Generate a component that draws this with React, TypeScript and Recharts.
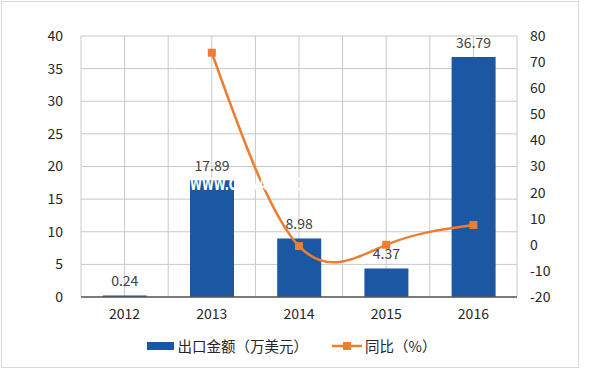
import React from 'react';
import {
  ComposedChart,
  Bar,
  Line,
  XAxis,
  YAxis,
  CartesianGrid,
  LabelList,
} from 'recharts';

const years = ['2012', '2013', '2014', '2015', '2016'];
const exportValues = [0.24, 17.89, 8.98, 4.37, 36.79];
const yoyValues: (number | null)[] = [null, 73.6, -0.5, 0, 7.6];
const leftTicks = [0, 5, 10, 15, 20, 25, 30, 35, 40];
const rightTicks = [-20, -10, 0, 10, 20, 30, 40, 50, 60, 70, 80];
const barName = '出口金额（万美元）';
const lineName = '同比（%）';

const data = years.map((y, i) => ({ year: y, exp: exportValues[i], yoy: yoyValues[i] }));

const BAR_COLOR = '#1b57a2';
const LINE_COLOR = '#ed7d31';
const FONT = '"Noto Sans CJK SC", "Open Sans", sans-serif';

const SquareDot = (props: any) => {
  const { cx, cy, value } = props;
  if (cx == null || cy == null || value == null) return null;
  return <rect x={cx - 4} y={cy - 4} width={8} height={8} fill={LINE_COLOR} />;
};

export default function App() {
  return (
    <div
      style={{
        position: 'absolute',
        left: 0,
        top: 0,
        width: 600,
        height: 369,
        background: '#fff',
      }}
    >
      <div
        style={{
          position: 'absolute',
          left: 1,
          top: 1,
          width: 576,
          height: 365,
          border: '1px solid #d9d9d9',
        }}
      />
      <ComposedChart
        width={600}
        height={369}
        data={data}
        margin={{ top: 36, right: 33, bottom: 42, left: 31 }}
        barCategoryGap="25%"
        style={{ position: 'absolute', left: 0, top: 0 }}
      >
        <CartesianGrid
          yAxisId="left"
          stroke="#c8c8c8"
          strokeWidth={1}
          verticalCoordinatesGenerator={({ offset }: any) =>
            Array.from({ length: 11 }, (_, i) => offset.left + (i * offset.width) / 10)
          }
        />
        <XAxis
          dataKey="year"
          height={30}
          axisLine={{ stroke: '#595959', strokeWidth: 1.5 }}
          tickLine={false}
          tickSize={0}
          tickMargin={12}
          tick={{ fill: '#262626', fontSize: 14, fontFamily: FONT }}
        />
        <YAxis
          yAxisId="left"
          orientation="left"
          width={50}
          domain={[0, 40]}
          ticks={leftTicks}
          axisLine={false}
          tickLine={false}
          tickSize={0}
          tickMargin={18}
          tick={{ fill: '#262626', fontSize: 14, fontFamily: FONT }}
        />
        <YAxis
          yAxisId="right"
          orientation="right"
          width={50}
          domain={[-20, 80]}
          ticks={rightTicks}
          axisLine={false}
          tickLine={false}
          tickSize={0}
          tickMargin={13}
          tick={{ fill: '#262626', fontSize: 14, fontFamily: FONT, textAnchor: 'start' }}
        />
        <Bar yAxisId="left" dataKey="exp" name={barName} fill={BAR_COLOR} isAnimationActive={false}>
          <LabelList
            dataKey="exp"
            position="top"
            offset={9}
            fill="#404040"
            fontSize={14}
            fontFamily={FONT}
          />
        </Bar>
        <Line
          yAxisId="right"
          type="natural"
          dataKey="yoy"
          name={lineName}
          stroke={LINE_COLOR}
          strokeWidth={2.5}
          dot={<SquareDot />}
          activeDot={false}
          isAnimationActive={false}
        />
      </ComposedChart>
      <div
        style={{
          position: 'absolute',
          left: 0,
          top: 336,
          width: 600,
          display: 'flex',
          justifyContent: 'center',
          alignItems: 'center',
          fontFamily: FONT,
          fontSize: 14.5,
          lineHeight: '20px',
          color: '#262626',
          paddingRight: 17,
          boxSizing: 'border-box',
        }}
      >
        <svg width={27} height={10} style={{ marginRight: 4 }}>
          <rect x={0} y={1} width={27} height={8} fill={BAR_COLOR} />
        </svg>
        <span style={{ marginRight: 24 }}>{barName}</span>
        <svg width={30} height={10} style={{ marginRight: 3 }}>
          <line x1={0} y1={5} x2={30} y2={5} stroke={LINE_COLOR} strokeWidth={2.5} />
          <rect x={11} y={1} width={8} height={8} fill={LINE_COLOR} />
        </svg>
        <span>{lineName}</span>
      </div>
      <div
        style={{
          position: 'absolute',
          left: 190,
          top: 176,
          color: '#ffffff',
          fontFamily: '"DejaVu Sans Condensed", "Liberation Sans", sans-serif',
          fontWeight: 'bold',
          fontSize: 15,
          lineHeight: '18px',
          transform: 'scaleX(0.8)',
          transformOrigin: 'left top',
          pointerEvents: 'none',
          whiteSpace: 'nowrap',
        }}
      >
        WWW.CHINAIRN.COM
      </div>
    </div>
  );
}
